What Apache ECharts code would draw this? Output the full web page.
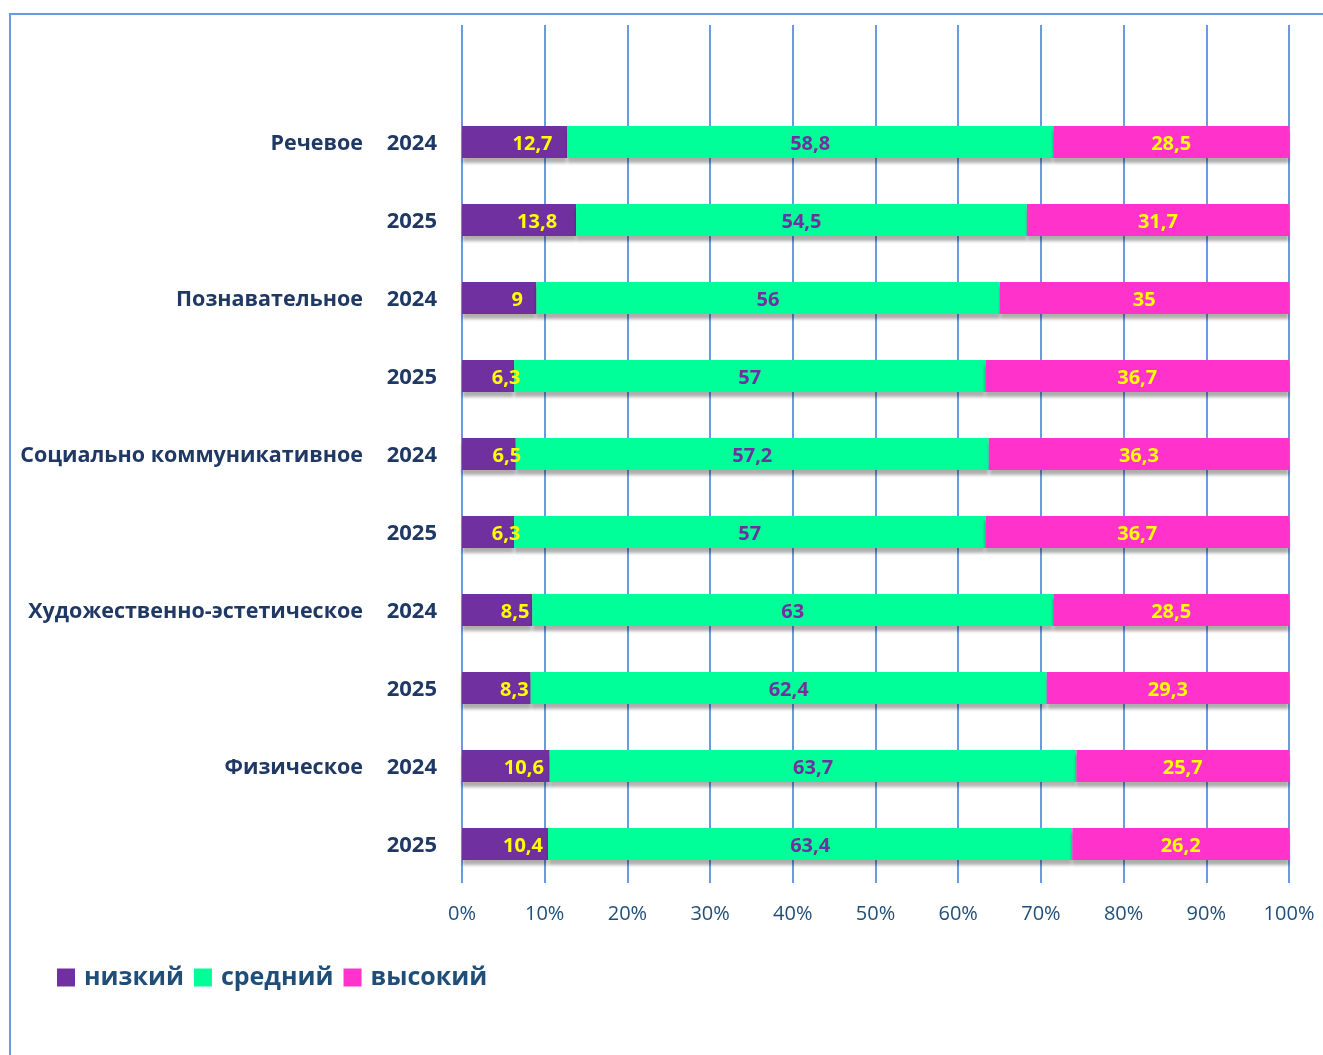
<!DOCTYPE html>
<html lang="ru">
<head>
    <meta charset="UTF-8">
    <title>Уровни развития</title>
    <script type="text/javascript" src="https://cdn.jsdelivr.net/npm/echarts@6/dist/echarts.min.js"></script>
    <style>
        html, body { margin: 0; padding: 0; background: #fff; }
        #chart { width: 1323px; height: 1055px; }
    </style>
</head>
<body>
<div id="chart"></div>
<script type="text/javascript">
    // группы и годы (подписи оси категорий)
    var groups = ['Речевое', '', 'Познавательное', '', 'Социально коммуникативное', '',
        'Художественно-эстетическое', '', 'Физическое', ''];
    var years = ['2024', '2025', '2024', '2025', '2024', '2025', '2024', '2025', '2024', '2025'];

    var seriesNames = ['низкий', 'средний', 'высокий'];
    var lowVals = [12.7, 13.8, 9, 6.3, 6.5, 6.3, 8.5, 8.3, 10.6, 10.4];
    var midVals = [58.8, 54.5, 56, 57, 57.2, 57, 63, 62.4, 63.7, 63.4];
    var highVals = [28.5, 31.7, 35, 36.7, 36.3, 36.7, 28.5, 29.3, 25.7, 26.2];

    var xTicks = [0, 10, 20, 30, 40, 50, 60, 70, 80, 90, 100];

    var colors = ['#7030a0', '#00ff99', '#ff33cc'];
    var font = '"Open Sans", "Noto Sans", sans-serif';

    var categories = groups.map(function (g, i) { return g + '|' + years[i]; });

    function commaFmt(p) {
        return String(p.value).replace('.', ',');
    }

    var shadow = {
        shadowColor: 'rgba(0,0,0,0.32)',
        shadowOffsetY: 5,
        shadowBlur: 3
    };

    function makeSeries(name, data, color, labelColor, offset) {
        return {
            name: name,
            type: 'bar',
            stack: 'all',
            xAxisIndex: 0,
            yAxisIndex: 0,
            barWidth: 32,
            data: data,
            itemStyle: Object.assign({ color: color }, shadow),
            label: {
                show: true,
                position: 'inside',
                offset: offset,
                color: labelColor,
                fontFamily: font,
                fontWeight: 'bold',
                fontSize: 20,
                formatter: commaFmt
            }
        };
    }

    var option = {
        backgroundColor: '#fff',
        animation: false,
        graphic: [{
            type: 'rect',
            z: -10,
            shape: { x: 10, y: 14, width: 1400, height: 1100 },
            style: { fill: 'none', stroke: '#6a9be0', lineWidth: 2 }
        }],
        legend: {
            data: seriesNames,
            left: 52,
            top: 960,
            icon: 'rect',
            itemWidth: 18,
            itemHeight: 18,
            itemGap: 10,
            textStyle: {
                color: '#1f4e79',
                fontFamily: font,
                fontWeight: 'bold',
                fontSize: 25,
                padding: [0, 0, 0, 4]
            }
        },
        grid: [
            { left: 462, right: 34, top: 103, bottom: 172 },   // бары
            { left: 462, right: 34, top: 25, bottom: 172 }     // сетка
        ],
        xAxis: [{
            gridIndex: 0,
            type: 'value',
            min: 0, max: 100, interval: 10,
            axisLine: { show: false },
            axisTick: { show: false },
            axisLabel: { show: false },
            splitLine: { show: false }
        }, {
            gridIndex: 1,
            type: 'value',
            min: xTicks[0], max: xTicks[xTicks.length - 1], interval: 10,
            axisLine: { show: false },
            axisTick: { show: false },
            axisLabel: {
                margin: 21,
                color: '#1f4e79',
                fontFamily: font,
                fontSize: 20,
                formatter: '{value}%'
            },
            splitLine: { show: true, lineStyle: { color: '#6a9be0', width: 2 } }
        }],
        yAxis: [{
            gridIndex: 0,
            type: 'category',
            inverse: true,
            data: categories,
            axisLine: { show: false },
            axisTick: { show: false },
            axisLabel: {
                margin: 25,
                padding: [4, 0, 0, 0],
                formatter: function (v) {
                    var parts = v.split('|');
                    return (parts[0] ? '{g|' + parts[0] + '}' : '') + '{y|' + parts[1] + '}';
                },
                rich: {
                    g: { color: '#1f3864', fontFamily: font, fontWeight: 'bold', fontSize: 21.5 },
                    y: { color: '#1f3864', fontFamily: font, fontWeight: 'bold', fontSize: 22, width: 74, align: 'right' }
                }
            }
        }, {
            gridIndex: 1,
            type: 'value',
            min: 0, max: 1,
            show: false
        }],
        series: [
            makeSeries(seriesNames[0], lowVals, colors[0], '#ffff00', [18, 2]),
            makeSeries(seriesNames[1], midVals, colors[1], '#7030a0', [0, 2]),
            makeSeries(seriesNames[2], highVals, colors[2], '#ffff00', [0, 2])
        ]
    };

    var myChart = echarts.init(document.getElementById('chart'));
    myChart.setOption(option);
</script>
</body>
</html>
